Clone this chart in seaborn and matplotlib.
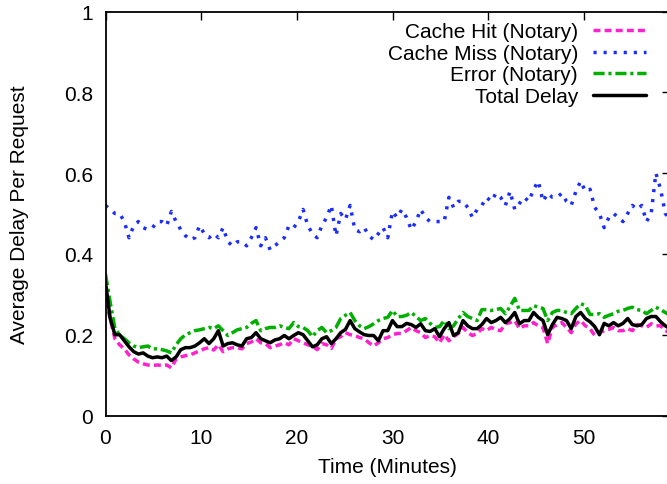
import numpy as np
import pandas as pd
import matplotlib
matplotlib.use("Agg")
import matplotlib.pyplot as plt
import seaborn as sns

# minutes, 121 samples
time_min = np.linspace(0, 59, 121)

cache_hit = [
    0.285, 0.24, 0.19, 0.175, 0.165, 0.15, 0.14, 0.132, 0.128, 0.125, 0.124, 0.125, 0.124, 0.125, 0.118, 0.14, 0.145, 0.148, 0.15, 0.155,
    0.16, 0.165, 0.168, 0.162, 0.175, 0.158, 0.165, 0.168, 0.168, 0.165, 0.178, 0.182, 0.19, 0.18, 0.178, 0.168, 0.172, 0.175, 0.18, 0.175,
    0.19, 0.185, 0.18, 0.175, 0.172, 0.163, 0.178, 0.175, 0.166, 0.19, 0.195, 0.205, 0.2, 0.198, 0.193, 0.19, 0.18, 0.172, 0.18, 0.19,
    0.193, 0.2, 0.203, 0.203, 0.21, 0.218, 0.21, 0.205, 0.193, 0.198, 0.195, 0.18, 0.2, 0.185, 0.195, 0.203, 0.218, 0.205, 0.198, 0.203,
    0.215, 0.21, 0.218, 0.212, 0.21, 0.227, 0.23, 0.235, 0.215, 0.222, 0.222, 0.23, 0.222, 0.218, 0.178, 0.218, 0.225, 0.23, 0.218, 0.205,
    0.227, 0.235, 0.222, 0.215, 0.198, 0.205, 0.21, 0.213, 0.218, 0.21, 0.21, 0.215, 0.21, 0.225, 0.222, 0.218, 0.227, 0.222, 0.222, 0.21,
    0.205,
]

cache_miss = [
    0.52, 0.51, 0.50, 0.50, 0.48, 0.44, 0.47, 0.48, 0.465, 0.46, 0.465, 0.48, 0.48, 0.47, 0.505, 0.48, 0.46, 0.445, 0.435, 0.44,
    0.47, 0.45, 0.44, 0.45, 0.44, 0.465, 0.43, 0.42, 0.43, 0.43, 0.42, 0.44, 0.465, 0.42, 0.44, 0.41, 0.42, 0.43, 0.44, 0.47,
    0.465, 0.48, 0.51, 0.47, 0.45, 0.44, 0.47, 0.49, 0.52, 0.445, 0.50, 0.485, 0.52, 0.46, 0.455, 0.465, 0.445, 0.435, 0.45, 0.465,
    0.44, 0.505, 0.49, 0.51, 0.49, 0.46, 0.48, 0.51, 0.49, 0.48, 0.48, 0.48, 0.48, 0.54, 0.515, 0.53, 0.53, 0.515, 0.49, 0.51,
    0.52, 0.54, 0.53, 0.55, 0.54, 0.52, 0.555, 0.51, 0.525, 0.54, 0.53, 0.56, 0.58, 0.53, 0.55, 0.54, 0.54, 0.55, 0.53, 0.52,
    0.555, 0.58, 0.555, 0.56, 0.515, 0.50, 0.465, 0.49, 0.50, 0.49, 0.48, 0.50, 0.52, 0.51, 0.52, 0.48, 0.50, 0.60, 0.56, 0.50,
    0.485,
]

error = [
    0.35, 0.28, 0.215, 0.2, 0.19, 0.18, 0.172, 0.168, 0.17, 0.172, 0.165, 0.165, 0.163, 0.16, 0.155, 0.175, 0.19, 0.2, 0.205, 0.21,
    0.212, 0.215, 0.218, 0.215, 0.222, 0.21, 0.198, 0.205, 0.212, 0.215, 0.218, 0.228, 0.235, 0.21, 0.215, 0.218, 0.218, 0.222, 0.218, 0.215,
    0.23, 0.22, 0.218, 0.21, 0.195, 0.21, 0.218, 0.205, 0.21, 0.218, 0.24, 0.248, 0.255, 0.235, 0.222, 0.215, 0.22, 0.227, 0.235, 0.24,
    0.243, 0.26, 0.245, 0.245, 0.248, 0.255, 0.245, 0.235, 0.24, 0.228, 0.218, 0.22, 0.235, 0.215, 0.222, 0.24, 0.255, 0.245, 0.24, 0.235,
    0.262, 0.262, 0.26, 0.262, 0.265, 0.252, 0.27, 0.29, 0.26, 0.26, 0.26, 0.272, 0.268, 0.265, 0.235, 0.255, 0.26, 0.26, 0.255, 0.252,
    0.265, 0.277, 0.272, 0.25, 0.25, 0.252, 0.243, 0.248, 0.252, 0.258, 0.26, 0.265, 0.268, 0.262, 0.26, 0.252, 0.26, 0.268, 0.262, 0.255,
    0.248,
]

total_delay = [
    0.33, 0.24, 0.20, 0.20, 0.185, 0.17, 0.158, 0.152, 0.155, 0.147, 0.143, 0.145, 0.143, 0.147, 0.136, 0.145, 0.163, 0.168, 0.168, 0.172,
    0.18, 0.19, 0.178, 0.19, 0.21, 0.172, 0.178, 0.18, 0.175, 0.172, 0.19, 0.193, 0.205, 0.19, 0.185, 0.18, 0.187, 0.19, 0.198, 0.19,
    0.198, 0.205, 0.2, 0.185, 0.17, 0.175, 0.19, 0.195, 0.178, 0.19, 0.205, 0.213, 0.235, 0.215, 0.207, 0.2, 0.198, 0.198, 0.185, 0.21,
    0.21, 0.235, 0.22, 0.22, 0.228, 0.225, 0.218, 0.227, 0.21, 0.208, 0.215, 0.195, 0.215, 0.23, 0.198, 0.205, 0.235, 0.222, 0.215, 0.215,
    0.225, 0.24, 0.23, 0.235, 0.243, 0.23, 0.24, 0.255, 0.227, 0.235, 0.235, 0.255, 0.243, 0.235, 0.2, 0.225, 0.243, 0.24, 0.235, 0.215,
    0.245, 0.255, 0.24, 0.232, 0.22, 0.2, 0.228, 0.222, 0.23, 0.222, 0.228, 0.24, 0.225, 0.222, 0.225, 0.24, 0.245, 0.245, 0.232, 0.222,
    0.215,
]

series = [
    ("Cache Hit (Notary)", cache_hit, "#ff22cc", (2.0, 1.2)),
    ("Cache Miss (Notary)", cache_miss, "#1a2cff", (0.9, 2.0)),
    ("Error (Notary)", error, "#00b000", (3.2, 1.1, 0.9, 1.1)),
    ("Total Delay", total_delay, "#000000", None),
]
x_ticks = [0, 10, 20, 30, 40, 50]
y_ticks = [0, 0.2, 0.4, 0.6, 0.8, 1]
y_tick_labels = ["0", "0.2", "0.4", "0.6", "0.8", "1"]

FS = 15

sns.set_theme(style="white")
plt.rcParams["font.family"] = ["Liberation Sans", "DejaVu Sans"]
plt.rcParams["font.size"] = FS
plt.rcParams["text.color"] = "black"
plt.rcParams["axes.labelcolor"] = "black"

fig = plt.figure(figsize=(6.67, 4.85), dpi=100)
ax = fig.add_axes([105.5 / 667, 68.5 / 485, 564.5 / 667, 404 / 485])

for name, vals, color, dash in series:
    sns.lineplot(x=time_min, y=vals, ax=ax, linewidth=2.5, color=color, label=name)
    if dash is not None:
        ax.lines[-1].set_dashes(dash)

ax.set_xlim(0, 59)
ax.set_ylim(0, 1)
ax.set_xticks(x_ticks)
ax.set_yticks(y_ticks)
ax.set_yticklabels(y_tick_labels)
ax.tick_params(direction="in", length=6, width=1, top=True, right=True,
               labelsize=FS, colors="black", pad=9)
for sp in ax.spines.values():
    sp.set_linewidth(1.3)
    sp.set_color("black")
ax.set_xlabel("Time (Minutes)", fontsize=FS, color="black", labelpad=7)
ax.set_ylabel("Average Delay Per Request", fontsize=FS, color="black", labelpad=25)

leg = ax.legend(loc="upper right", bbox_to_anchor=(0.957, 0.973), frameon=False,
                markerfirst=False, handlelength=2.55, handletextpad=0.7,
                labelspacing=0.12, borderpad=0, borderaxespad=0, fontsize=FS)
for t in leg.get_texts():
    t.set_color("black")

fig.savefig("out.png", dpi=100)
